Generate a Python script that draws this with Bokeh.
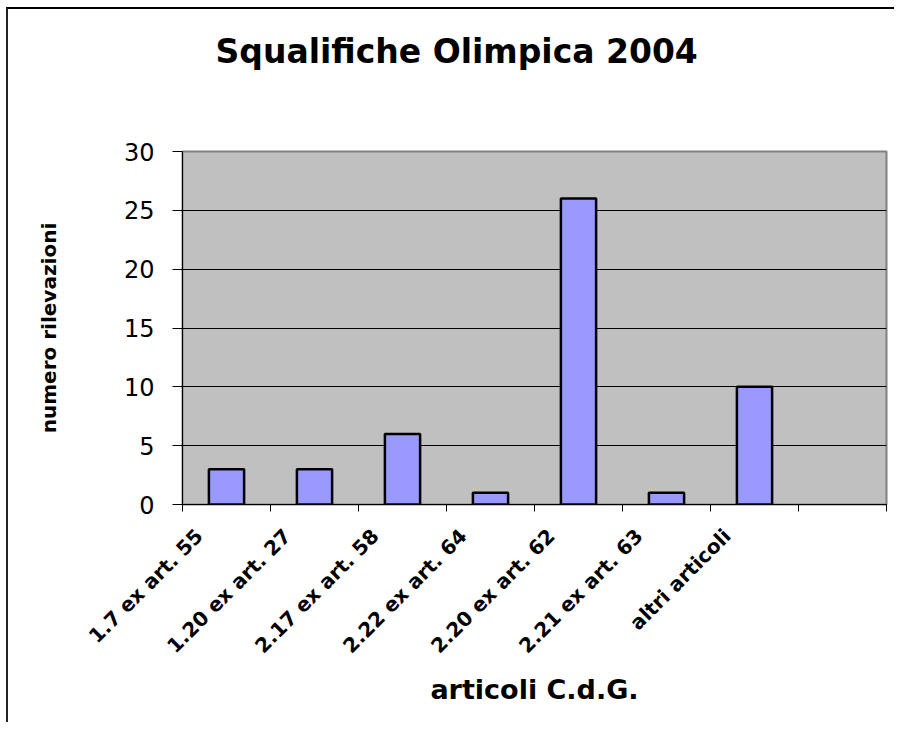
import math
from bokeh.plotting import figure
from bokeh.models import Range1d, FixedTicker, LinearAxis
from bokeh.embed import file_html
from bokeh.resources import INLINE

# ---- data ----
categories = ["1.7 ex art. 55", "1.20 ex art. 27", "2.17 ex art. 58",
              "2.22 ex art. 64", "2.20 ex art. 62", "2.21 ex art. 63",
              "altri articoli"]
counts = [3, 3, 6, 1, 26, 1, 10]
y_ticks = [0, 5, 10, 15, 20, 25, 30]
title_text = "Squalifiche Olimpica 2004"
x_title = "articoli C.d.G."
y_title = "numero rilevazioni"

# ---- layout helpers ----
n_slots = len(categories) + 1          # one empty slot at the end (as in the original)
centers = [i + 0.5 for i in range(len(categories))]
boundaries = list(range(n_slots + 1))
label_shift = -0.31                     # rotated labels sit a little left of the bar centre
label_ticks = [round(c + label_shift, 3) for c in centers]

FONT = "DejaVu Sans"

p = figure(width=888, height=715, output_backend="svg", toolbar_location=None,
           x_range=Range1d(0, n_slots), y_range=Range1d(y_ticks[0], y_ticks[-1]),
           min_border_left=174, min_border_top=142,
           min_border_right=10, min_border_bottom=220)
p.styles = {"margin-left": "6px", "margin-top": "7px",
            "border-left": "2px solid #222222", "border-top": "2px solid #000000"}

xa = p.below[0]
ya = p.left[0]

p.vbar(x=centers, top=counts, width=0.4, fill_color="#9999FF",
       line_color="black", line_width=2.5)

p.background_fill_color = "#C0C0C0"
p.border_fill_color = "white"
p.outline_line_color = "#808080"
p.outline_line_width = 2

# invisible spacer between the frame and the title (pushes the title up)
spacer = LinearAxis(ticker=FixedTicker(ticks=[], minor_ticks=[]),
                    major_tick_out=0, major_tick_in=0,
                    axis_line_color=None, major_tick_line_color=None,
                    minor_tick_line_color=None, major_label_text_font_size="0px",
                    axis_label=" ", axis_label_text_font_size="10px",
                    axis_label_standoff=62)
p.add_layout(spacer, "above")

# title
p.title.text = title_text
p.title.text_font = FONT
p.title.text_font_style = "bold"
p.title.text_font_size = "33px"
p.title.align = "left"
p.title.offset = 33
p.title.standoff = 10
p.title.text_color = "black"

# x axis
xa.ticker = FixedTicker(ticks=label_ticks, minor_ticks=boundaries)
xa.major_label_overrides = {t: lab for t, lab in zip(label_ticks, categories)}
xa.major_tick_line_color = None
xa.major_tick_out = 0
xa.major_tick_in = 0
xa.minor_tick_out = 7
xa.minor_tick_in = 0
xa.minor_tick_line_color = "black"
xa.axis_line_color = "black"
xa.major_label_orientation = math.pi / 4
xa.major_label_text_font = FONT
xa.major_label_text_font_style = "bold"
xa.major_label_text_font_size = "20px"
xa.major_label_text_color = "black"
xa.major_label_standoff = 21
xa.axis_label = x_title
xa.axis_label_text_font = FONT
xa.axis_label_text_font_style = "bold"
xa.axis_label_text_font_size = "27px"
xa.axis_label_text_color = "black"
xa.axis_label_standoff = 5

# y axis
ya.ticker = FixedTicker(ticks=y_ticks, minor_ticks=[])
ya.major_tick_out = 10
ya.major_tick_in = 0
ya.major_tick_line_color = "black"
ya.minor_tick_line_color = None
ya.axis_line_color = "black"
ya.major_label_text_font = FONT
ya.major_label_text_font_size = "24px"
ya.major_label_text_color = "black"
ya.major_label_standoff = 18
ya.axis_label = y_title
ya.axis_label_text_font = FONT
ya.axis_label_text_font_style = "bold"
ya.axis_label_text_font_size = "20px"
ya.axis_label_text_color = "black"
ya.axis_label_standoff = 60

# grid
p.xgrid.visible = False
p.ygrid.ticker = FixedTicker(ticks=y_ticks[1:-1], minor_ticks=[])
p.ygrid.grid_line_color = "black"
p.ygrid.grid_line_width = 1

open("out.html", "w").write(file_html(p, INLINE))
